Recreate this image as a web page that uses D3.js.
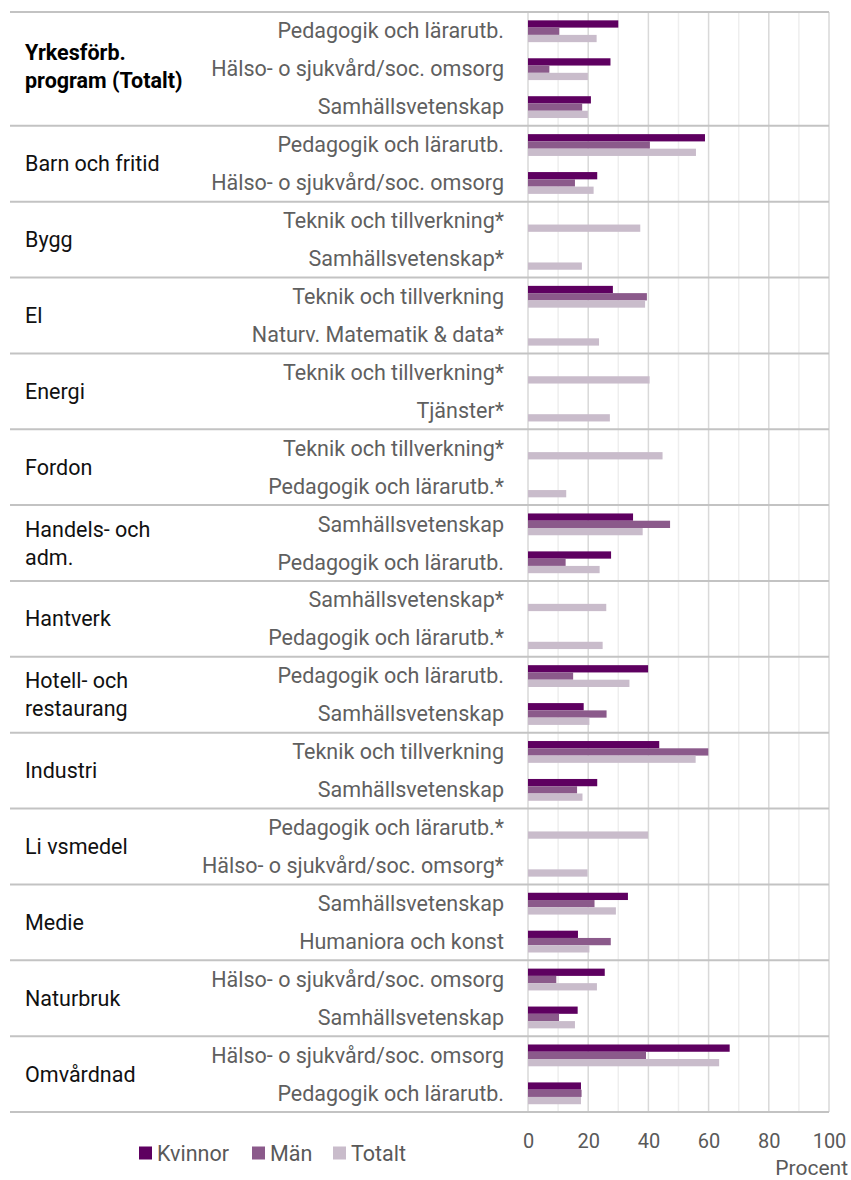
<!DOCTYPE html>
<html>
<head>
<meta charset="utf-8">
<script src="https://cdn.jsdelivr.net/npm/d3@7"></script>
<style>
  body { margin: 0; background: #fff; }
  text { font-family: Roboto, "Noto Sans", sans-serif; }
</style>
</head>
<body>
<div id="chart"></div>
<script>
// Program groups (label lines) and number of rows in each
const groups = [
    { name: ['Yrkesförb.', 'program (Totalt)'], bold: true, rows: 3 },
    { name: ['Barn och fritid'], rows: 2 },
    { name: ['Bygg'], rows: 2 },
    { name: ['El'], rows: 2 },
    { name: ['Energi'], rows: 2 },
    { name: ['Fordon'], rows: 2 },
    { name: ['Handels- och', 'adm.'], rows: 2 },
    { name: ['Hantverk'], rows: 2 },
    { name: ['Hotell- och', 'restaurang'], rows: 2 },
    { name: ['Industri'], rows: 2 },
    { name: ['Li vsmedel'], rows: 2 },
    { name: ['Medie'], rows: 2 },
    { name: ['Naturbruk'], rows: 2 },
    { name: ['Omvårdnad'], rows: 2 }
];

// Subject area for each row
const subjects = [
    'Pedagogik och lärarutb.', 'Hälso- o sjukvård/soc. omsorg', 'Samhällsvetenskap',
    'Pedagogik och lärarutb.', 'Hälso- o sjukvård/soc. omsorg',
    'Teknik och tillverkning*', 'Samhällsvetenskap*',
    'Teknik och tillverkning', 'Naturv. Matematik & data*',
    'Teknik och tillverkning*', 'Tjänster*',
    'Teknik och tillverkning*', 'Pedagogik och lärarutb.*',
    'Samhällsvetenskap', 'Pedagogik och lärarutb.',
    'Samhällsvetenskap*', 'Pedagogik och lärarutb.*',
    'Pedagogik och lärarutb.', 'Samhällsvetenskap',
    'Teknik och tillverkning', 'Samhällsvetenskap',
    'Pedagogik och lärarutb.*', 'Hälso- o sjukvård/soc. omsorg*',
    'Samhällsvetenskap', 'Humaniora och konst',
    'Hälso- o sjukvård/soc. omsorg', 'Samhällsvetenskap',
    'Hälso- o sjukvård/soc. omsorg', 'Pedagogik och lärarutb.'
];

const kvinnor = [30.0, 27.4, 20.9, 58.8, 23.0, null, null, 28.2, null, null, null, null, null,
    34.9, 27.6, null, null, 39.9, 18.5, 43.6, 23.0, null, null, 33.2, 16.6, 25.5, 16.5, 67.0, 17.6];
const man = [10.4, 7.1, 18.0, 40.5, 15.6, null, null, 39.5, null, null, null, null, null,
    47.2, 12.5, null, null, 15.0, 26.1, 59.9, 16.3, null, null, 22.1, 27.5, 9.4, 10.3, 39.2, 17.8];
const totalt = [22.8, 19.9, 19.9, 55.8, 21.8, 37.3, 17.9, 38.9, 23.6, 40.4, 27.2, 44.7, 12.7,
    38.1, 23.8, 26.0, 24.8, 33.7, 20.4, 55.7, 18.1, 39.9, 19.8, 29.2, 20.4, 22.9, 15.6, 63.5, 17.6];

const seriesNames = ['Kvinnor', 'Män', 'Totalt'];
const seriesValues = [kvinnor, man, totalt];
const xTicks = [0, 20, 40, 60, 80, 100];

const width = 851;
const height = 1180;
const plot = { left: 528, right: 829, top: 12, bottom: 1112 };
const colors = { 'Kvinnor': '#5e0060', 'Män': '#8b5a8b', 'Totalt': '#c9bccb' };

const svg = d3.select('#chart').append('svg')
    .attr('width', width)
    .attr('height', height);

const xScale = d3.scaleLinear()
    .domain([0, 100])
    .range([plot.left, plot.right]);

const yScale = d3.scaleBand()
    .domain(d3.range(subjects.length))
    .range([plot.top, plot.bottom]);

const slot = yScale.bandwidth();

const ySeries = d3.scaleBand()
    .domain(seriesNames)
    .range([slot * 0.22, slot * 0.795]);

// Vertical grid lines: minor at 10s, major at 20s
svg.append('g')
    .selectAll('line')
    .data(d3.range(10, 100, 20))
    .enter().append('line')
    .attr('x1', d => xScale(d)).attr('x2', d => xScale(d))
    .attr('y1', plot.top).attr('y2', plot.bottom)
    .attr('stroke', '#eeeeee')
    .attr('stroke-width', 1.5);

svg.append('g')
    .selectAll('line')
    .data(xTicks)
    .enter().append('line')
    .attr('x1', d => xScale(d)).attr('x2', d => xScale(d))
    .attr('y1', plot.top).attr('y2', plot.bottom)
    .attr('stroke', '#d9d9d9')
    .attr('stroke-width', 1.5);

// Group separators
const groupStarts = [];
let acc = 0;
groups.forEach(g => { groupStarts.push(acc); acc += g.rows; });

const boundaries = groupStarts.map(s => yScale(s)).concat([plot.bottom]);

svg.append('g')
    .selectAll('line')
    .data(boundaries)
    .enter().append('line')
    .attr('x1', 10).attr('x2', plot.right)
    .attr('y1', d => d).attr('y2', d => d)
    .attr('stroke', '#c3c3c3')
    .attr('stroke-width', 2);

// Bars
const barData = [];
subjects.forEach((s, i) => {
    seriesNames.forEach((name, j) => {
        const v = seriesValues[j][i];
        if (v !== null) barData.push({ row: i, series: name, value: v });
    });
});

svg.append('g')
    .selectAll('rect')
    .data(barData)
    .enter().append('rect')
    .attr('x', xScale(0))
    .attr('y', d => yScale(d.row) + ySeries(d.series))
    .attr('width', d => xScale(d.value) - xScale(0))
    .attr('height', ySeries.bandwidth())
    .attr('fill', d => colors[d.series]);

// Subject labels
svg.append('g')
    .selectAll('text')
    .data(subjects)
    .enter().append('text')
    .attr('x', 504)
    .attr('y', (d, i) => yScale(i) + slot / 2)
    .attr('dy', '0.35em')
    .style('text-anchor', 'end')
    .style('font-size', '21.5px')
    .style('fill', '#5f5f5f')
    .text(d => d);

// Group labels
groups.forEach((g, gi) => {
    const yCenter = (yScale(groupStarts[gi]) + yScale(groupStarts[gi] + g.rows - 1) + slot) / 2;
    const offset = g.bold ? -2 : 0;
    g.name.forEach((line, li) => {
        svg.append('text')
            .attr('x', 25)
            .attr('y', yCenter + offset + (li - (g.name.length - 1) / 2) * 28)
            .attr('dy', '0.35em')
            .style('font-size', '21.5px')
            .style('font-weight', g.bold ? 'bold' : 'normal')
            .style('fill', g.bold ? '#000' : '#111')
            .text(line);
    });
});

// X axis
const xAxis = d3.axisBottom(xScale)
    .tickValues(xTicks)
    .tickSize(0)
    .tickPadding(22);

const axisG = svg.append('g')
    .attr('transform', `translate(0, ${plot.bottom})`)
    .call(xAxis);

axisG.select('.domain').remove();
axisG.selectAll('text')
    .style('font-family', 'Roboto, sans-serif')
    .style('font-size', '20px')
    .style('fill', '#595959');

svg.append('text')
    .attr('x', 848)
    .attr('y', 1175)
    .style('text-anchor', 'end')
    .style('font-size', '21px')
    .style('fill', '#595959')
    .text('Procent');

// Legend
const legendX = [139, 252, 333];
const legend = svg.append('g')
    .attr('class', 'legend')
    .attr('transform', 'translate(0, 1153)');

legend.selectAll('rect')
    .data(seriesNames)
    .enter().append('rect')
    .attr('x', (d, i) => legendX[i])
    .attr('y', -6.5)
    .attr('width', 13)
    .attr('height', 13)
    .attr('fill', d => colors[d]);

legend.selectAll('text')
    .data(seriesNames)
    .enter().append('text')
    .attr('x', (d, i) => legendX[i] + 18)
    .attr('y', 0)
    .attr('dy', '0.35em')
    .style('font-size', '21.5px')
    .style('fill', '#595959')
    .text(d => d);
</script>
</body>
</html>
